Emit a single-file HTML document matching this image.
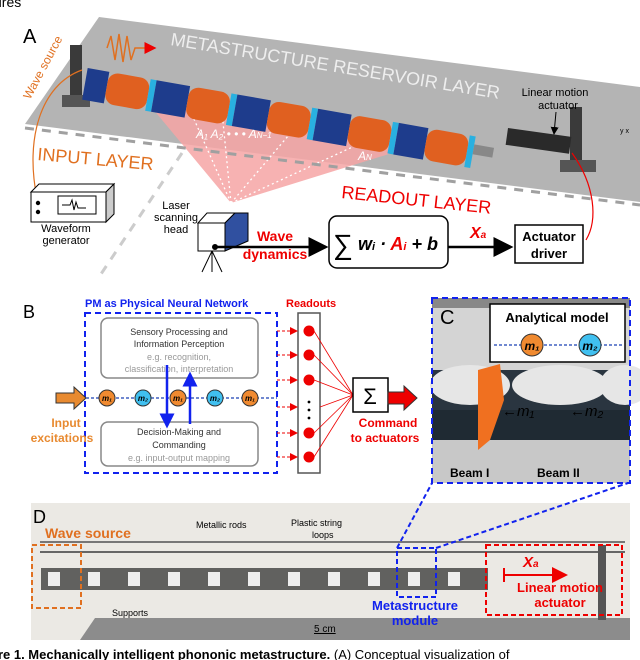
<!DOCTYPE html>
<html><head><meta charset="utf-8"><style>
body{margin:0;background:#fff;width:640px;height:660px;overflow:hidden}
svg{display:block}
text{font-family:"Liberation Sans",sans-serif}
</style></head><body>
<svg width="640" height="660" viewBox="0 0 640 660" xmlns="http://www.w3.org/2000/svg">
<defs>
<marker id="ab" markerWidth="8" markerHeight="8" refX="7" refY="4" orient="auto"><path d="M0,0 L8,4 L0,8z" fill="#000"/></marker>
<marker id="ar" markerWidth="8" markerHeight="8" refX="7" refY="4" orient="auto"><path d="M0,0 L8,4 L0,8z" fill="#e00"/></marker>
<marker id="abl" markerWidth="6" markerHeight="6" refX="5" refY="3" orient="auto"><path d="M0,0 L6,3 L0,6z" fill="#12e"/></marker>
</defs>
<text x="-6" y="7" font-size="14">ures</text>
<!-- Part A -->
<polygon points="99,17 640,87 640,202 25,124" fill="#b4b4b4"/>
<text x="23" y="43" font-size="20">A</text>
<text x="170" y="45" font-size="18" fill="#eee" transform="rotate(9.3 170 45)">METASTRUCTURE RESERVOIR LAYER</text>
<polygon points="143,97 434,140 231,203" fill="#f6a4a4" opacity="0.85"/>
<g stroke="#fff" stroke-dasharray="2,3" stroke-width="1.3">
<line x1="231" y1="203" x2="190" y2="110"/><line x1="231" y1="203" x2="222" y2="112"/><line x1="231" y1="203" x2="300" y2="122"/><line x1="231" y1="203" x2="385" y2="132"/></g>
<text x="196" y="138" font-size="12" fill="#fff" font-style="italic" font-family="Liberation Serif">A₁  A₂ • • • A<tspan font-size="8">N−1</tspan></text>
<text x="358" y="160" font-size="12" fill="#fff" font-style="italic" font-family="Liberation Serif">A<tspan font-size="8">N</tspan></text>
<!-- supports -->
<rect x="70" y="45" width="12" height="62" fill="#3a3a3a"/><rect x="62" y="95" width="28" height="12" fill="#555"/>
<rect x="570" y="107" width="12" height="62" fill="#3a3a3a"/><rect x="560" y="160" width="36" height="12" fill="#555"/>
<rect x="508" y="128" width="64" height="17" fill="#2a2a2a" transform="rotate(8 508 128)"/>
<g transform="rotate(10 87 72)">
<rect x="87" y="68" width="22" height="32" fill="#1e3c8c"/>
<rect x="109" y="68" width="42" height="32" fill="#e06020" rx="10"/>
<rect x="151" y="68" width="6" height="32" fill="#29b0e0"/>
<rect x="157" y="68" width="34" height="32" fill="#1e3c8c"/>
<rect x="191" y="68" width="42" height="32" fill="#e06020" rx="10"/>
<rect x="233" y="68" width="6" height="32" fill="#29b0e0"/>
<rect x="239" y="68" width="34" height="32" fill="#1e3c8c"/>
<rect x="273" y="68" width="42" height="32" fill="#e06020" rx="10"/>
<rect x="315" y="68" width="6" height="32" fill="#29b0e0"/>
<rect x="321" y="68" width="34" height="32" fill="#1e3c8c"/>
<rect x="355" y="68" width="42" height="32" fill="#e06020" rx="10"/>
<rect x="397" y="68" width="6" height="32" fill="#29b0e0"/>
<rect x="403" y="68" width="30" height="32" fill="#1e3c8c"/>
<rect x="433" y="68" width="42" height="32" fill="#e06020" rx="10"/>
<rect x="475" y="68" width="6" height="32" fill="#29b0e0"/>
<rect x="481" y="76" width="20" height="10" fill="#888"/>
</g>
<path d="M107,48 l4,-12 l4,24 l4,-26 l4,28 l4,-26 l4,24 l4,-12 h20" stroke="#e07020" fill="none" stroke-width="1.5" marker-end="url(#ar)"/>
<text x="30" y="100" font-size="12" fill="#e07020" transform="rotate(-62 30 100)">Wave source</text>
<path d="M37,198 C25,140 40,85 82,70" stroke="#e07020" fill="none" stroke-width="1.2"/>
<text x="555" y="96" font-size="11" text-anchor="middle">Linear motion</text><text x="558" y="109" font-size="11" text-anchor="middle">actuator</text>
<line x1="556" y1="112" x2="554" y2="134" stroke="#000" marker-end="url(#ab)"/>
<text x="620" y="133" font-size="7">y  x</text>
<text x="37" y="160" font-size="18" fill="#e07020" transform="rotate(5 37 160)">INPUT LAYER</text>
<text x="341" y="198" font-size="18" fill="#e00" transform="rotate(6 341 198)">READOUT LAYER</text>
<line x1="25" y1="128" x2="640" y2="205" stroke="#a0a0a0" stroke-width="3" stroke-dasharray="9,8"/>
<line x1="182" y1="153" x2="99" y2="277" stroke="#ccc" stroke-width="3" stroke-dasharray="9,8"/>
<path d="M572,153 C595,185 598,220 586,240" stroke="#e00" fill="none" stroke-width="1.2"/>
<rect x="31" y="192" width="75" height="30" fill="#fff" stroke="#000"/>
<polygon points="31,192 39,184 114,184 106,192" fill="#fff" stroke="#000"/>
<polygon points="106,192 114,184 114,214 106,222" fill="#ccc" stroke="#000"/>
<rect x="58" y="196" width="38" height="18" fill="none" stroke="#000"/>
<path d="M62,205 h8 l2,-5 l2,10 l2,-8 l2,6 h8" stroke="#000" fill="none"/>
<circle cx="38" cy="203" r="2.2"/><circle cx="38" cy="212" r="2.2"/>
<text x="66" y="232" font-size="11" text-anchor="middle">Waveform</text><text x="66" y="244" font-size="11" text-anchor="middle">generator</text>
<text x="176" y="209" font-size="11" text-anchor="middle">Laser</text><text x="176" y="221" font-size="11" text-anchor="middle">scanning</text><text x="176" y="233" font-size="11" text-anchor="middle">head</text>
<rect x="198" y="223" width="27" height="28" fill="#fff" stroke="#000"/>
<polygon points="198,223 207,213 235,213 225,223" fill="#fff" stroke="#000"/>
<polygon points="225,223 235,213 248,213 248,241 225,251" fill="#3050a0" stroke="#000"/>
<path d="M212,251 l-10,21 M212,251 l0,21 M212,251 l10,21" stroke="#000"/>
<circle cx="215" cy="247" r="3"/>
<line x1="216" y1="247" x2="326" y2="247" stroke="#000" stroke-width="2.5" marker-end="url(#ab)"/>
<text x="275" y="241" font-size="14" font-weight="bold" fill="#e00" text-anchor="middle">Wave</text>
<text x="275" y="259" font-size="14" font-weight="bold" fill="#e00" text-anchor="middle">dynamics</text>
<rect x="329" y="216" width="119" height="52" rx="8" fill="#fff" stroke="#000" stroke-width="1.5"/>
<text x="333" y="254" font-size="28" font-family="Liberation Serif">∑</text>
<text x="358" y="250" font-size="18" font-family="Liberation Serif" font-style="italic" font-weight="bold">w<tspan font-size="11">i</tspan> · <tspan fill="#e00">A<tspan font-size="11">i</tspan></tspan> + b</text>
<line x1="448" y1="247" x2="511" y2="247" stroke="#000" stroke-width="2.5" marker-end="url(#ab)"/>
<text x="470" y="238" font-size="16" font-family="Liberation Serif" font-style="italic" font-weight="bold" fill="#e00">X<tspan font-size="10">a</tspan></text>
<rect x="515" y="225" width="68" height="38" fill="#fff" stroke="#000" stroke-width="1.5"/>
<text x="549" y="241" font-size="13" font-weight="bold" text-anchor="middle">Actuator</text><text x="549" y="258" font-size="13" font-weight="bold" text-anchor="middle">driver</text>
<!-- Part B -->
<text x="23" y="318" font-size="18">B</text>
<text x="85" y="307" font-size="11" font-weight="bold" fill="#12e">PM as Physical Neural Network</text>
<text x="286" y="307" font-size="11" font-weight="bold" fill="#e00">Readouts</text>
<rect x="85" y="313" width="192" height="160" fill="none" stroke="#12e" stroke-width="2" stroke-dasharray="6,4"/>
<rect x="101" y="318" width="157" height="60" rx="7" fill="#fff" stroke="#888" stroke-width="1.5"/>
<text x="179" y="335" font-size="9" text-anchor="middle" fill="#333">Sensory Processing and</text>
<text x="179" y="347" font-size="9" text-anchor="middle" fill="#333">Information Perception</text>
<text x="179" y="360" font-size="9" text-anchor="middle" fill="#999">e.g. recognition,</text>
<text x="179" y="372" font-size="9" text-anchor="middle" fill="#999">classification, interpretation</text>
<rect x="101" y="422" width="157" height="44" rx="7" fill="#fff" stroke="#888" stroke-width="1.5"/>
<text x="179" y="435" font-size="9" text-anchor="middle" fill="#333">Decision-Making and</text>
<text x="179" y="448" font-size="9" text-anchor="middle" fill="#333">Commanding</text>
<text x="179" y="461" font-size="9" text-anchor="middle" fill="#999">e.g. input-output mapping</text>
<polygon points="56,393 74,393 74,387 86,398 74,409 74,403 56,403" fill="#e88a30" stroke="#333"/>
<line x1="86" y1="398" x2="277" y2="398" stroke="#4060c0" stroke-width="1.5" stroke-dasharray="3,2"/>
<g font-size="8" font-family="Liberation Serif" font-style="italic" font-weight="bold" text-anchor="middle">
<circle cx="107" cy="398" r="8" fill="#f08a30" stroke="#333"/><text x="107" y="401">m₁</text>
<circle cx="143" cy="398" r="8" fill="#40c0f0" stroke="#333"/><text x="143" y="401">m₂</text>
<circle cx="178" cy="398" r="8" fill="#f08a30" stroke="#333"/><text x="178" y="401">m₁</text>
<circle cx="215" cy="398" r="8" fill="#40c0f0" stroke="#333"/><text x="215" y="401">m₂</text>
<circle cx="250" cy="398" r="8" fill="#f08a30" stroke="#333"/><text x="250" y="401">m₁</text>
</g>
<line x1="167" y1="365" x2="167" y2="426" stroke="#12e" stroke-width="2.5" marker-end="url(#abl)"/>
<line x1="190" y1="424" x2="190" y2="374" stroke="#12e" stroke-width="2.5" marker-end="url(#abl)"/>
<text x="66" y="427" font-size="12" font-weight="bold" fill="#e88a30" text-anchor="middle">Input</text>
<text x="62" y="442" font-size="12" font-weight="bold" fill="#e88a30" text-anchor="middle">excitations</text>
<rect x="298" y="313" width="22" height="160" fill="#fff" stroke="#555" stroke-width="1.5"/>
<g fill="#e00"><circle cx="309" cy="331" r="5.5"/><circle cx="309" cy="355" r="5.5"/><circle cx="309" cy="380" r="5.5"/><circle cx="309" cy="433" r="5.5"/><circle cx="309" cy="457" r="5.5"/></g>
<g fill="#000"><circle cx="309" cy="402" r="1.4"/><circle cx="309" cy="410" r="1.4"/><circle cx="309" cy="418" r="1.4"/></g>
<g stroke="#e00" stroke-dasharray="3,2" marker-end="url(#ar)"><line x1="277" y1="331" x2="297" y2="331"/><line x1="277" y1="355" x2="297" y2="355"/><line x1="277" y1="380" x2="297" y2="380"/><line x1="277" y1="407" x2="297" y2="407"/><line x1="277" y1="433" x2="297" y2="433"/><line x1="277" y1="457" x2="297" y2="457"/></g>
<g stroke="#e00" stroke-width="0.8"><line x1="314" y1="331" x2="353" y2="395"/><line x1="314" y1="355" x2="353" y2="395"/><line x1="314" y1="380" x2="353" y2="395"/><line x1="320" y1="407" x2="353" y2="395"/><line x1="314" y1="433" x2="353" y2="395"/><line x1="314" y1="457" x2="353" y2="395"/></g>
<rect x="353" y="378" width="35" height="34" fill="#fff" stroke="#000" stroke-width="1.5"/>
<text x="370" y="404" font-size="22" text-anchor="middle" font-family="Liberation Serif">Σ</text>
<polygon points="388,392 404,392 404,386 417,398 404,410 404,404 388,404" fill="#e00" stroke="#333"/>
<text x="388" y="427" font-size="12" font-weight="bold" fill="#e00" text-anchor="middle">Command</text>
<text x="385" y="442" font-size="12" font-weight="bold" fill="#e00" text-anchor="middle">to actuators</text>
<!-- Part C -->
<rect x="432" y="298" width="198" height="185" fill="#d4d4d4"/>
<rect x="432" y="298" width="198" height="10" fill="#888"/>
<rect x="432" y="370" width="198" height="60" fill="#2a3540"/>
<ellipse cx="470" cy="385" rx="40" ry="20" fill="#e6e6e6"/><ellipse cx="560" cy="385" rx="48" ry="20" fill="#e6e6e6"/><ellipse cx="625" cy="385" rx="25" ry="20" fill="#e6e6e6"/>
<rect x="432" y="430" width="198" height="53" fill="#c8c8c8"/>
<rect x="432" y="410" width="198" height="30" fill="#1f2a33"/>
<polygon points="478,370 500,364 504,400 490,440 478,450" fill="#f07020"/>
<rect x="432" y="298" width="198" height="185" fill="none" stroke="#12e" stroke-width="2" stroke-dasharray="6,4"/>
<text x="440" y="324" font-size="20">C</text>
<rect x="490" y="304" width="135" height="58" fill="#fff" stroke="#000" stroke-width="1.5"/>
<text x="557" y="322" font-size="13" font-weight="bold" text-anchor="middle">Analytical model</text>
<line x1="494" y1="345" x2="622" y2="345" stroke="#4060c0" stroke-dasharray="3,2" stroke-width="1.5"/>
<circle cx="532" cy="345" r="11" fill="#f08a30" stroke="#333"/><circle cx="590" cy="345" r="11" fill="#40c0f0" stroke="#333"/>
<text x="532" y="350" font-size="12" text-anchor="middle" font-family="Liberation Serif" font-style="italic" font-weight="bold">m₁</text>
<text x="590" y="350" font-size="12" text-anchor="middle" font-family="Liberation Serif" font-style="italic" font-weight="bold">m₂</text>
<text x="502" y="416" font-size="15" font-family="Liberation Serif" font-style="italic">←m₁</text>
<text x="570" y="416" font-size="15" font-family="Liberation Serif" font-style="italic">←m₂</text>
<text x="450" y="477" font-size="12" font-weight="bold">Beam I</text>
<text x="537" y="477" font-size="12" font-weight="bold">Beam II</text>
<!-- Part D -->
<rect x="31" y="503" width="599" height="137" fill="#ebe9e4"/>
<polygon points="95,618 630,618 630,640 80,640" fill="#8c8c8c"/>
<line x1="40" y1="542" x2="625" y2="542" stroke="#777" stroke-width="2"/>
<line x1="40" y1="552" x2="625" y2="552" stroke="#666" stroke-width="2"/>
<rect x="41" y="568" width="447" height="22" fill="#333" opacity="0.75"/>
<g fill="#eee"><rect x="48" y="572" width="12" height="14"/><rect x="88" y="572" width="12" height="14"/><rect x="128" y="572" width="12" height="14"/><rect x="168" y="572" width="12" height="14"/><rect x="208" y="572" width="12" height="14"/><rect x="248" y="572" width="12" height="14"/><rect x="288" y="572" width="12" height="14"/><rect x="328" y="572" width="12" height="14"/><rect x="368" y="572" width="12" height="14"/><rect x="408" y="572" width="12" height="14"/><rect x="448" y="572" width="12" height="14"/></g>
<rect x="598" y="545" width="8" height="75" fill="#555"/>
<rect x="32" y="545" width="49" height="63" fill="none" stroke="#e07020" stroke-width="2" stroke-dasharray="5,3"/>
<rect x="397" y="548" width="39" height="49" fill="none" stroke="#12e" stroke-width="2" stroke-dasharray="5,3"/>
<line x1="397" y1="548" x2="432" y2="483" stroke="#12e" stroke-width="2" stroke-dasharray="5,3"/>
<line x1="436" y1="548" x2="628" y2="483" stroke="#12e" stroke-width="2" stroke-dasharray="5,3"/>
<rect x="486" y="545" width="136" height="70" fill="none" stroke="#e00" stroke-width="2" stroke-dasharray="5,3"/>
<text x="33" y="523" font-size="18">D</text>
<text x="45" y="538" font-size="14" font-weight="bold" fill="#e07020">Wave source</text>
<text x="196" y="528" font-size="9">Metallic rods</text>
<text x="291" y="526" font-size="9">Plastic string</text><text x="312" y="538" font-size="9">loops</text>
<text x="523" y="567" font-size="15" font-family="Liberation Serif" font-style="italic" font-weight="bold" fill="#e00">X<tspan font-size="10">a</tspan></text>
<line x1="504" y1="575" x2="566" y2="575" stroke="#e00" stroke-width="2" marker-end="url(#ar)"/>
<line x1="504" y1="568" x2="504" y2="582" stroke="#e00" stroke-width="2"/>
<text x="560" y="592" font-size="13" font-weight="bold" fill="#e00" text-anchor="middle">Linear motion</text>
<text x="560" y="607" font-size="13" font-weight="bold" fill="#e00" text-anchor="middle">actuator</text>
<text x="415" y="610" font-size="13" font-weight="bold" fill="#12e" text-anchor="middle">Metastructure</text>
<text x="415" y="625" font-size="13" font-weight="bold" fill="#12e" text-anchor="middle">module</text>
<text x="112" y="616" font-size="9">Supports</text>
<text x="314" y="632" font-size="10" text-decoration="underline">5 cm</text>
<text x="-10" y="659" font-size="13"><tspan font-weight="bold">ure 1. Mechanically intelligent phononic metastructure.</tspan> (A) Conceptual visualization of</text>
</svg>
</body></html>
